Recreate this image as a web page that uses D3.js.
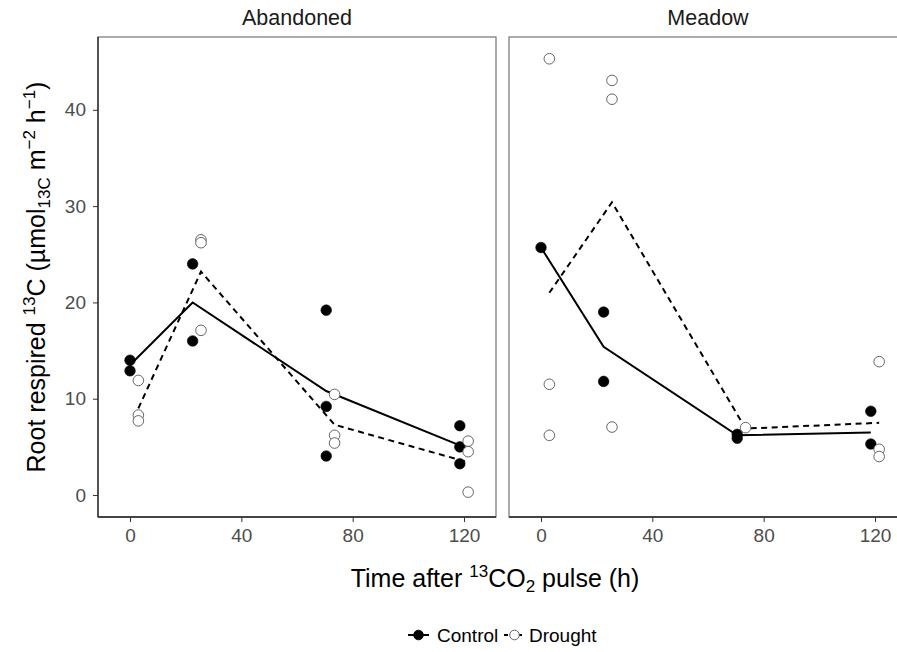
<!DOCTYPE html>
<html>
<head>
<meta charset="utf-8">
<script src="https://cdn.jsdelivr.net/npm/d3@7"></script>
<style>
  body { margin: 0; background: #fff; }
  svg { display: block; font-family: "Liberation Sans", Arial, sans-serif; }
</style>
</head>
<body>
<div id="chart"></div>
<script>
// Sampling times (h), control dodged left and drought dodged right
const controlTimes = [0, 22.5, 70.5, 118.5];
const droughtTimes = [3, 25.5, 73.5, 121.5];
const xTicks = [0, 40, 80, 120];
const yTicks = [0, 10, 20, 30, 40];
const facets = ['Abandoned', 'Meadow'];

// replicate values per time point
const abandonedControl = [[14.0, 12.9], [24.0, 16.0], [19.2, 9.2, 4.05], [7.2, 5.0, 3.25]];
const abandonedDrought = [[11.9, 8.3, 7.7], [26.5, 26.2, 17.1], [10.45, 6.2, 5.4], [5.6, 4.5, 0.3]];
const meadowControl = [[25.7], [19.0, 11.8], [6.3, 5.9], [8.7, 5.3]];
const meadowDrought = [[45.3, 11.5, 6.2], [43.05, 41.1, 7.06], [7.0], [13.85, 4.75, 4.0]];

// treatment means (lines)
const abandonedControlMean = [13.5, 20.0, 10.8, 5.15];
const abandonedDroughtMean = [9.0, 23.2, 7.3, 3.4];
const meadowControlMean = [25.7, 15.4, 6.2, 6.5];
const meadowDroughtMean = [21.0, 30.4, 6.9, 7.5];

const series = {
  Abandoned: { control: abandonedControl, drought: abandonedDrought,
               controlMean: abandonedControlMean, droughtMean: abandonedDroughtMean },
  Meadow: { control: meadowControl, drought: meadowDrought,
            controlMean: meadowControlMean, droughtMean: meadowDroughtMean }
};

const width = 897, height = 652;
const panelW = 398, panelTop = 37, panelBottom = 517;
const panelLefts = [98, 509];

const svg = d3.select('#chart').append('svg')
  .attr('width', width)
  .attr('height', height);

const y = d3.scaleLinear().domain([-2.28, 47.56]).range([panelBottom, panelTop]);

facets.forEach((name, i) => {
  const left = panelLefts[i];
  const x = d3.scaleLinear().domain([-11.5, 131.5]).range([left, left + panelW]);
  const s = series[name];
  const g = svg.append('g');

  // strip label
  g.append('text')
    .attr('x', left + panelW / 2)
    .attr('y', 25)
    .attr('text-anchor', 'middle')
    .attr('font-size', 21.5)
    .attr('fill', '#1a1a1a')
    .text(name);

  // panel border
  g.append('rect')
    .attr('x', left).attr('y', panelTop)
    .attr('width', panelW).attr('height', panelBottom - panelTop)
    .attr('fill', 'none')
    .attr('stroke', '#7f7f7f')
    .attr('stroke-width', 1.3);

  // axis lines
  g.append('line')
    .attr('x1', left).attr('x2', left + panelW)
    .attr('y1', panelBottom).attr('y2', panelBottom)
    .attr('stroke', '#222').attr('stroke-width', 1.3);

  const xAxis = g.append('g')
    .attr('transform', `translate(0,${panelBottom})`)
    .call(d3.axisBottom(x).tickValues(xTicks).tickSize(5).tickPadding(7));
  xAxis.select('.domain').remove();
  xAxis.selectAll('line').attr('stroke', '#333');
  xAxis.selectAll('text').attr('font-size', 19).attr('fill', '#4d4d4d')
    .attr('font-family', null);

  if (i === 0) {
    g.append('line')
      .attr('x1', left).attr('x2', left)
      .attr('y1', panelTop).attr('y2', panelBottom)
      .attr('stroke', '#222').attr('stroke-width', 1.3);
    const yAxis = g.append('g')
      .attr('transform', `translate(${left},0)`)
      .call(d3.axisLeft(y).tickValues(yTicks).tickSize(5).tickPadding(7));
    yAxis.select('.domain').remove();
    yAxis.selectAll('line').attr('stroke', '#333');
    yAxis.selectAll('text').attr('font-size', 19).attr('fill', '#4d4d4d')
      .attr('font-family', null);
  }

  const marks = g.append('g');

  const line = d3.line().x(d => x(d[0])).y(d => y(d[1]));

  marks.append('path')
    .datum(controlTimes.map((t, k) => [t, s.controlMean[k]]))
    .attr('d', line)
    .attr('fill', 'none')
    .attr('stroke', '#000')
    .attr('stroke-width', 2);

  marks.append('path')
    .datum(droughtTimes.map((t, k) => [t, s.droughtMean[k]]))
    .attr('d', line)
    .attr('fill', 'none')
    .attr('stroke', '#000')
    .attr('stroke-width', 2)
    .attr('stroke-dasharray', '6,4.5');

  const ctrlPts = s.control.flatMap((vals, k) => vals.map(v => [controlTimes[k], v]));
  const drPts = s.drought.flatMap((vals, k) => vals.map(v => [droughtTimes[k], v]));

  marks.selectAll('circle.ctrl')
    .data(ctrlPts)
    .enter()
    .append('circle')
    .attr('class', 'ctrl')
    .attr('cx', d => x(d[0]))
    .attr('cy', d => y(d[1]))
    .attr('r', 5.3)
    .attr('fill', '#000')
    .attr('stroke', '#000')
    .attr('stroke-width', 0.6);

  marks.selectAll('circle.dr')
    .data(drPts)
    .enter()
    .append('circle')
    .attr('class', 'dr')
    .attr('cx', d => x(d[0]))
    .attr('cy', d => y(d[1]))
    .attr('r', 5.3)
    .attr('fill', '#fff')
    .attr('stroke', '#555')
    .attr('stroke-width', 0.9);
});

// Y axis title
const yTitle = svg.append('text')
  .attr('transform', `translate(45,${(panelTop + panelBottom) / 2}) rotate(-90)`)
  .attr('text-anchor', 'middle')
  .attr('font-size', 25)
  .attr('fill', '#000');
yTitle.append('tspan').text('Root respired ');
yTitle.append('tspan').attr('font-size', 17).attr('dy', -10).text('13');
yTitle.append('tspan').attr('dy', 10).text('C (µmol');
yTitle.append('tspan').attr('font-size', 17).attr('dy', 5).text('13C');
yTitle.append('tspan').attr('dy', -5).text(' m');
yTitle.append('tspan').attr('font-size', 17).attr('dy', -10).text('−2');
yTitle.append('tspan').attr('dy', 10).text(' h');
yTitle.append('tspan').attr('font-size', 17).attr('dy', -10).text('−1');
yTitle.append('tspan').attr('dy', 10).text(')');

// X axis title
const xTitle = svg.append('text')
  .attr('x', 495)
  .attr('y', 587)
  .attr('text-anchor', 'middle')
  .attr('font-size', 25)
  .attr('fill', '#000');
xTitle.append('tspan').text('Time after ');
xTitle.append('tspan').attr('font-size', 17).attr('dy', -10).text('13');
xTitle.append('tspan').attr('dy', 10).text('CO');
xTitle.append('tspan').attr('font-size', 17).attr('dy', 5).text('2');
xTitle.append('tspan').attr('dy', -5).text(' pulse (h)');

// Legend
const legendItems = [
  { label: 'Control', fill: '#000', stroke: '#000', dash: null, keyX: 408, textX: 437 },
  { label: 'Drought', fill: '#fff', stroke: '#555', dash: '4,3', keyX: 504, textX: 529 }
];
const legend = svg.append('g');
legendItems.forEach(d => {
  legend.append('line')
    .attr('x1', d.keyX).attr('x2', d.keyX + 21)
    .attr('y1', 635).attr('y2', 635)
    .attr('stroke', '#000').attr('stroke-width', 2)
    .attr('stroke-dasharray', d.dash);
  legend.append('circle')
    .attr('cx', d.keyX + 10.5).attr('cy', 635).attr('r', 4.8)
    .attr('fill', d.fill).attr('stroke', d.stroke).attr('stroke-width', 0.9);
  legend.append('text')
    .attr('x', d.textX).attr('y', 642)
    .attr('font-size', 19)
    .attr('fill', '#000')
    .text(d.label);
});
</script>
</body>
</html>
